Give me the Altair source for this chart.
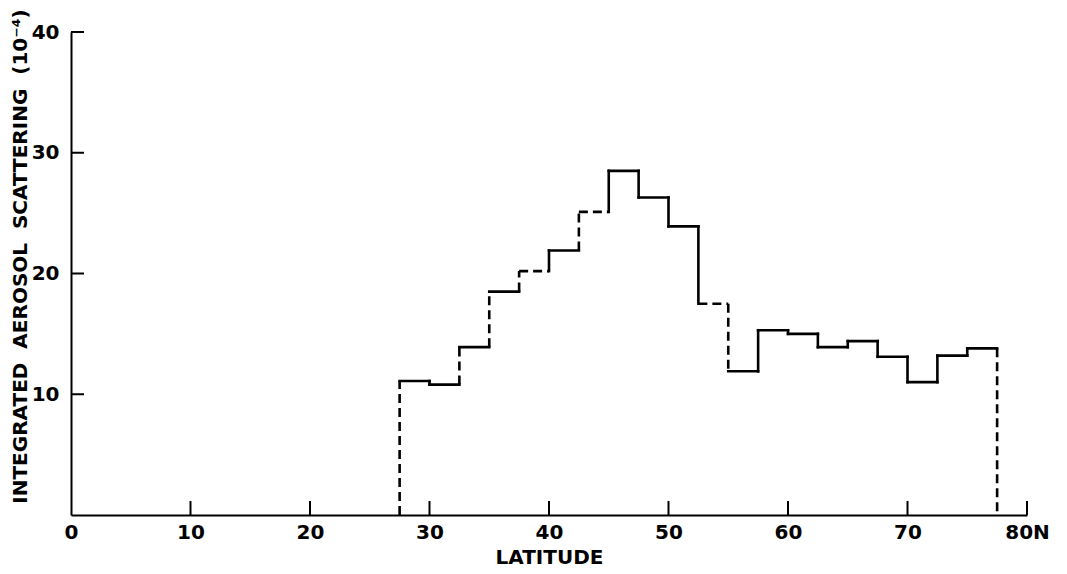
import altair as alt
import pandas as pd

# Bin edges (degrees latitude) and integrated aerosol scattering per 2.5-degree bin (x 10^-4)
edges = [27.5, 30, 32.5, 35, 37.5, 40, 42.5, 45, 47.5, 50, 52.5,
         55, 57.5, 60, 62.5, 65, 67.5, 70, 72.5, 75, 77.5]
values = [11.1, 10.8, 13.9, 18.5, 20.2, 21.9, 25.1, 28.5, 26.3, 23.9,
          17.5, 11.9, 15.3, 15.0, 13.9, 14.4, 13.1, 11.0, 13.2, 13.8]
# dashed flags for the horizontal (bin top) segments
horizontal_dashed = [False, False, False, False, True, False, True, False, False, False,
                     True, False, False, False, False, False, False, False, False, False]
# dashed flags for the vertical segments at each edge
vertical_dashed = [True, False, True, True, True, False, True, False, False, False,
                   False, True, False, False, False, False, False, False, False, False, True]

x_tick_values = [0, 10, 20, 30, 40, 50, 60, 70, 80]
y_tick_values = [10, 20, 30, 40]

rows = []
for i, v in enumerate(values):
    rows.append(dict(x=edges[i], x2=edges[i + 1], y=v, y2=v,
                     style="dashed" if horizontal_dashed[i] else "solid"))
for i, e in enumerate(edges):
    lo = values[i - 1] if i > 0 else 0
    hi = values[i] if i < len(values) else 0
    rows.append(dict(x=e, x2=e, y=lo, y2=hi,
                     style="dashed" if vertical_dashed[i] else "solid"))
seg = pd.DataFrame(rows)

W, H = 956, 483
FONT = "DejaVu Sans"

xscale = alt.Scale(domain=[0, 80], nice=False, zero=False)
yscale = alt.Scale(domain=[0, 40], nice=False)

x_axis = alt.Axis(
    title="LATITUDE", values=x_tick_values,
    labelExpr="datum.value == 80 ? '80N' : datum.label",
    labelFlush=False, labelOverlap=False,
    grid=False, ticks=False, tickSize=0, labelPadding=7,
    labelFont=FONT, labelFontSize=20, labelFontWeight="bold", labelColor="black",
    titleFont=FONT, titleFontSize=20, titleFontWeight="bold", titleColor="black",
    titleBaseline="alphabetic", titleY=48, titleX=W / 2,
    domainColor="black", domainWidth=2,
)
y_axis = alt.Axis(
    title="INTEGRATED\u00a0\u00a0AEROSOL\u00a0\u00a0SCATTERING\u00a0\u00a0(10\u207b\u2074)",
    values=y_tick_values, grid=False, ticks=False, tickSize=0, labelPadding=12,
    labelFlush=False,
    labelFont=FONT, labelFontSize=20, labelFontWeight="bold", labelColor="black",
    titleFont=FONT, titleFontSize=20, titleFontWeight="bold", titleColor="black",
    titleBaseline="alphabetic", titleX=-45, titleY=224, titleAngle=-90,
    domainColor="black", domainWidth=2,
)

base = alt.Chart(seg)
solid = base.transform_filter(alt.datum.style == "solid").mark_rule(
    color="black", strokeWidth=2.6, strokeCap="square"
).encode(
    x=alt.X("x:Q", scale=xscale, axis=x_axis),
    x2="x2:Q",
    y=alt.Y("y:Q", scale=yscale, axis=y_axis),
    y2="y2:Q",
)
dashed = base.transform_filter(alt.datum.style == "dashed").mark_rule(
    color="black", strokeWidth=2.6, strokeDash=[9, 5]
).encode(
    x=alt.X("x:Q", scale=xscale, axis=x_axis),
    x2="x2:Q",
    y=alt.Y("y:Q", scale=yscale, axis=y_axis),
    y2="y2:Q",
)

xt = pd.DataFrame({"t": x_tick_values[1:]})
yt = pd.DataFrame({"t": y_tick_values})
x_ticks = alt.Chart(xt).mark_rule(color="black", strokeWidth=2).encode(
    x=alt.X("t:Q", scale=xscale, axis=x_axis),
    y=alt.value(H), y2=alt.value(H - 14),
)
y_ticks = alt.Chart(yt).mark_rule(color="black", strokeWidth=2).encode(
    y=alt.Y("t:Q", scale=yscale, axis=y_axis),
    x=alt.value(0), x2=alt.value(13),
)

chart = alt.layer(solid, dashed, x_ticks, y_ticks).properties(
    width=W, height=H,
    autosize=alt.AutoSizeParams(type="none"),
    padding={"left": 63, "top": 24, "right": 30, "bottom": 53},
    background="white",
).configure_view(stroke=None)

chart.save("out.html", embed_options={"renderer": "svg", "actions": False})
